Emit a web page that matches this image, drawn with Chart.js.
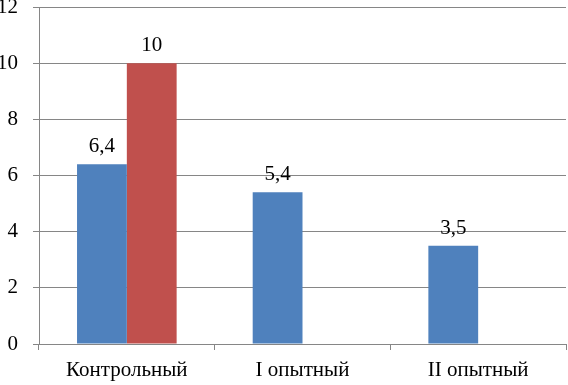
<!DOCTYPE html>
<html>
<head>
<meta charset="utf-8">
<script src="https://cdn.jsdelivr.net/npm/chart.js@4/dist/chart.umd.min.js"></script>
<style>
  html, body { margin: 0; padding: 0; background: #fff; }
  canvas { display: block; }
</style>
</head>
<body>
<canvas id="chart" width="568" height="385"></canvas>
<script>
// данные
const categories = ["Контрольный", "I опытный", "II опытный"];
const seriesBlue = [6.4, 5.4, 3.5];
const seriesRed = [10, null, null];
const yTicks = [0, 2, 4, 6, 8, 10, 12];

const FONT = "'Liberation Serif', serif";
const FSIZE = 21;

Chart.defaults.font.family = FONT;
Chart.defaults.font.size = FSIZE;
Chart.defaults.color = "#000";

// подписи значений над столбцами
const valueLabels = {
  id: "valueLabels",
  afterDatasetsDraw(chart) {
    const ctx = chart.ctx;
    ctx.save();
    ctx.font = FSIZE + "px " + FONT;
    ctx.fillStyle = "#000";
    ctx.textAlign = "center";
    ctx.textBaseline = "bottom";
    chart.data.datasets.forEach((ds, i) => {
      const meta = chart.getDatasetMeta(i);
      meta.data.forEach((bar, j) => {
        const v = ds.data[j];
        if (v == null) return;
        ctx.fillText(String(v).replace(".", ","), bar.x, bar.y - 7);
      });
    });
    ctx.restore();
  }
};

new Chart(document.getElementById("chart"), {
  type: "bar",
  data: {
    labels: categories,
    datasets: [
      { label: "1", data: seriesBlue, backgroundColor: "#4F81BD" },
      { label: "2", data: seriesRed, backgroundColor: "#C0504D" }
    ]
  },
  options: {
    responsive: false,
    animation: false,
    devicePixelRatio: 1,
    layout: { padding: { top: 7, right: 2, left: 0, bottom: 0 } },
    categoryPercentage: 0.567,
    barPercentage: 1,
    plugins: { legend: { display: false }, tooltip: { enabled: false } },
    scales: {
      x: {
        grid: {
          offset: true,
          drawOnChartArea: false,
          drawTicks: true,
          tickLength: 6,
          color: "#868686"
        },
        border: { color: "#868686", width: 1 },
        ticks: { padding: 8, autoSkip: false, maxRotation: 0 },
        afterFit(axis) {
          axis.height = 41;
          axis.paddingLeft = 0;
          axis.paddingRight = 0;
        }
      },
      y: {
        min: 0,
        max: 12,
        afterBuildTicks(axis) { axis.ticks = yTicks.map(v => ({ value: v })); },
        grid: { color: "#868686", tickLength: 6 },
        border: { color: "#868686", width: 1 },
        ticks: { padding: 15 },
        afterFit(axis) {
          axis.width = 39;
          axis.paddingTop = 0;
          axis.paddingBottom = 0;
        }
      }
    }
  },
  plugins: [valueLabels]
});
</script>
</body>
</html>
